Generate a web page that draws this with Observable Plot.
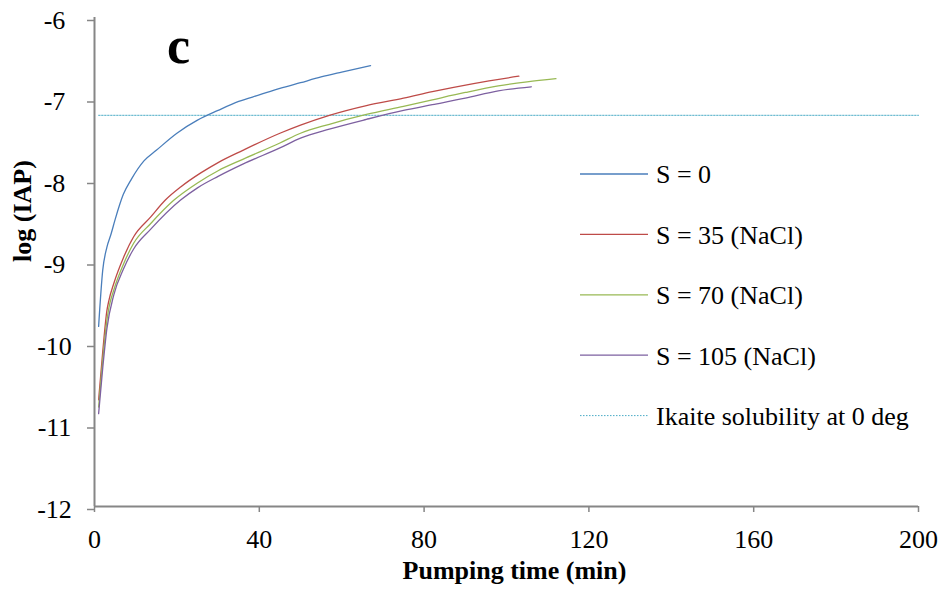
<!DOCTYPE html>
<html>
<head>
<meta charset="utf-8">
<script src="https://cdn.jsdelivr.net/npm/d3@7"></script>
<script src="https://cdn.jsdelivr.net/npm/@observablehq/plot@0.6"></script>
<style>
  html, body { margin: 0; padding: 0; background: #fff; }
  #chart { position: relative; width: 943px; height: 594px; }
</style>
</head>
<body>
<div id="chart"></div>
<script>
// ---- Data ----
const seriesNames = ["S = 0", "S = 35 (NaCl)", "S = 70 (NaCl)", "S = 105 (NaCl)"];
const seriesColors = ["#4A7EBB", "#BE4B48", "#98B954", "#7D60A0"];

const time_S0 = [1, 2, 3, 4, 5, 7, 9, 12, 15, 20, 25, 30, 35, 40, 45, 50, 55, 60, 67];
const logIAP_S0 = [-9.79, -9.1, -8.82, -8.66, -8.48, -8.17, -7.98, -7.76, -7.63, -7.42, -7.26, -7.14, -7.03, -6.95, -6.87, -6.80, -6.73, -6.67, -6.59];

const time_S35 = [1, 2, 3, 3.5, 4.7, 7, 9.5, 13.6, 17.2, 20.9, 25.7, 30, 36, 45, 50, 57, 66, 75, 82, 92, 103];
const logIAP_S35 = [-10.69, -10.1, -9.6, -9.47, -9.26, -8.95, -8.69, -8.45, -8.24, -8.08, -7.91, -7.78, -7.63, -7.42, -7.32, -7.20, -7.08, -6.99, -6.91, -6.81, -6.72];

const time_S70 = [1, 2, 3, 3.5, 4.7, 7, 9.5, 13.6, 19.3, 25, 30, 36, 45, 50, 57, 66, 75, 82, 90, 98, 105, 112];
const logIAP_S70 = [-10.78, -10.2, -9.72, -9.56, -9.34, -9.03, -8.77, -8.53, -8.24, -8.03, -7.88, -7.74, -7.54, -7.42, -7.31, -7.19, -7.09, -7.01, -6.92, -6.84, -6.79, -6.75];

const time_S105 = [1, 2, 3, 4.7, 7, 9.5, 13.6, 20.9, 25, 30, 36, 45, 50, 57, 66, 75, 82, 90, 98, 106];
const logIAP_S105 = [-10.86, -10.3, -9.82, -9.40, -9.09, -8.84, -8.60, -8.24, -8.09, -7.95, -7.80, -7.60, -7.48, -7.37, -7.25, -7.14, -7.07, -6.99, -6.90, -6.85];

const ikaiteLabel = "Ikaite solubility at 0 deg";
const ikaiteColor = "#4BACC6";
const ikaiteTime = [1, 200];
const ikaiteLogIAP = -7.2;

const xTicks = [0, 40, 80, 120, 160, 200];
const yTicks = [-12, -11, -10, -9, -8, -7, -6];
const xTitle = "Pumping time (min)";
const yTitle = "log (IAP)";
const panelLetter = "c";

// ---- Build table ----
const seriesTimes = [time_S0, time_S35, time_S70, time_S105];
const seriesValues = [logIAP_S0, logIAP_S35, logIAP_S70, logIAP_S105];
const rows = [];
seriesNames.forEach((name, s) => {
  seriesTimes[s].forEach((t, i) => rows.push({series: name, time: t, logIAP: seriesValues[s][i]}));
});
const ikaiteRows = ikaiteTime.map(t => ({time: t, logIAP: ikaiteLogIAP}));

const axisColor = "#868686";
const font = "'Liberation Serif', 'Times New Roman', serif";

const plot = Plot.plot({
  width: 943,
  height: 594,
  marginLeft: 94,
  marginRight: 25,
  marginTop: 17,
  marginBottom: 88,
  style: {fontFamily: font, fontSize: "26px", background: "#fff", overflow: "visible"},
  x: {domain: [0, 200], label: null},
  y: {domain: [-12, -6], label: null},
  color: {domain: seriesNames, range: seriesColors},
  marks: [
    Plot.line(ikaiteRows, {x: "time", y: "logIAP", stroke: ikaiteColor, strokeWidth: 1, strokeDasharray: "1.5,1.5"}),
    Plot.line(rows, {x: "time", y: "logIAP", z: "series", stroke: "series", strokeWidth: 1.3, curve: "monotone-x"}),
    Plot.axisX({ticks: xTicks, tickSize: 6, tickPadding: 17, stroke: axisColor, fill: "black", strokeWidth: 1.5,
      tickFormat: d => String(d), label: null, fontSize: 26, fontFamily: font}),
    Plot.axisY({ticks: yTicks, tickSize: 7, tickPadding: 33, stroke: axisColor, fill: "black", strokeWidth: 1.5,
      textAnchor: "middle", tickFormat: d => String(d), label: null, fontSize: 26, fontFamily: font, dy: 3}),
    Plot.ruleX([0], {stroke: axisColor, strokeWidth: 2}),
    Plot.ruleY([-12], {stroke: axisColor, strokeWidth: 2}),
    Plot.text([xTitle], {frameAnchor: "bottom", dx: 8, dy: 72, fontWeight: "bold", fontSize: 26, fontFamily: font, fill: "black"}),
    Plot.text([yTitle], {frameAnchor: "left", dx: -72, rotate: -90, fontWeight: "bold", fontSize: 26, fontFamily: font, fill: "black"}),
    Plot.text([panelLetter], {frameAnchor: "top-left", dx: 84, dy: 45, lineAnchor: "bottom", textAnchor: "middle", fontWeight: "bold", fontSize: 52, fontFamily: font, fill: "black"})
  ]
});

document.getElementById("chart").appendChild(plot);

// ---- Legend (drawn in the same SVG) ----
const legendItems = seriesNames.map((n, i) => ({label: n, color: seriesColors[i], dash: null, width: 1.3}))
  .concat([{label: ikaiteLabel, color: ikaiteColor, dash: "1.5,1.5", width: 1}]);
const svg = d3.select(plot.tagName.toLowerCase() === "svg" ? plot : plot.querySelector("svg"));
const lg = svg.append("g").attr("transform", "translate(580,174)");
legendItems.forEach((it, i) => {
  const g = lg.append("g").attr("transform", `translate(0,${i * 60.4})`);
  g.append("line").attr("x1", 0).attr("x2", 68).attr("y1", 0).attr("y2", 0)
    .attr("stroke", it.color).attr("stroke-width", it.width)
    .attr("stroke-dasharray", it.dash);
  g.append("text").attr("x", 76).attr("y", 0).attr("dy", "0.36em")
    .attr("text-anchor", "start")
    .attr("font-family", font).attr("font-size", 26).attr("fill", "black")
    .text(it.label);
});
</script>
</body>
</html>
